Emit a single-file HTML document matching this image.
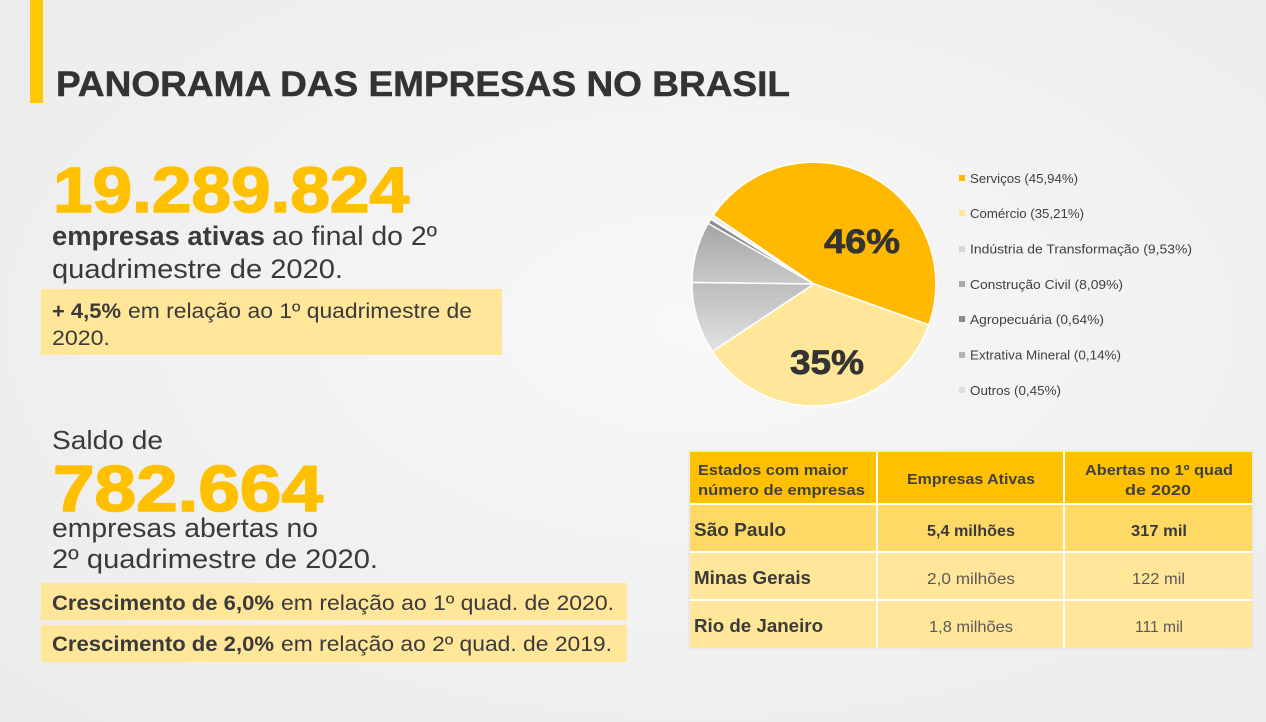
<!DOCTYPE html>
<html>
<head>
<meta charset="utf-8">
<style>
  html,body{margin:0;padding:0;}
  body{width:1266px;height:722px;overflow:hidden;background:#f0f0f0;}
  svg{display:block;}
  text{font-family:"Liberation Sans", Arial, sans-serif;}
</style>
</head>
<body>
<svg width="1266" height="722" viewBox="0 0 1266 722" xmlns="http://www.w3.org/2000/svg">
  <defs>
    <radialGradient id="bg" cx="0.55" cy="0.45" r="0.75">
      <stop offset="0" stop-color="#f8f8f8"/>
      <stop offset="1" stop-color="#ebebeb"/>
    </radialGradient>
    <linearGradient id="gCons" gradientUnits="userSpaceOnUse" x1="0" y1="222" x2="0" y2="284">
      <stop offset="0" stop-color="#a3a3a3"/>
      <stop offset="1" stop-color="#c9c9c9"/>
    </linearGradient>
    <linearGradient id="gInd" gradientUnits="userSpaceOnUse" x1="0" y1="284" x2="0" y2="352">
      <stop offset="0" stop-color="#bdbdbd"/>
      <stop offset="1" stop-color="#e2e2e2"/>
    </linearGradient>
  </defs>

  <rect x="0" y="0" width="1266" height="722" fill="url(#bg)"/>

  <!-- Title -->
  <rect x="30" y="0" width="13" height="103" fill="#ffc800"/>
  <text x="56" y="96" font-size="35" font-weight="bold" fill="#333333" stroke="#333333" stroke-width="0.5" textLength="734" lengthAdjust="spacingAndGlyphs">PANORAMA DAS EMPRESAS NO BRASIL</text>

  <!-- Block 1 -->
  <text x="53" y="212" font-size="64" font-weight="bold" fill="#ffc000" stroke="#ffc000" stroke-width="1.6" stroke-linejoin="round" textLength="356" lengthAdjust="spacingAndGlyphs">19.289.824</text>
  <text x="52" y="245" font-size="27" font-weight="bold" fill="#3a3a3a" textLength="213" lengthAdjust="spacingAndGlyphs">empresas ativas</text>
  <text x="272" y="245" font-size="27" fill="#3a3a3a" textLength="165" lengthAdjust="spacingAndGlyphs">ao final do 2º</text>
  <text x="52" y="278" font-size="27" fill="#3a3a3a" textLength="291" lengthAdjust="spacingAndGlyphs">quadrimestre de 2020.</text>

  <rect x="41" y="289" width="461" height="66" fill="#ffe699"/>
  <text x="52" y="318" font-size="21" font-weight="bold" fill="#3a3a3a" textLength="69" lengthAdjust="spacingAndGlyphs">+ 4,5%</text>
  <text x="128" y="318" font-size="21" fill="#3a3a3a" textLength="344" lengthAdjust="spacingAndGlyphs">em relação ao 1º quadrimestre de</text>
  <text x="52" y="345" font-size="21" fill="#3a3a3a" textLength="58" lengthAdjust="spacingAndGlyphs">2020.</text>

  <!-- Block 2 -->
  <text x="52" y="449" font-size="26" fill="#3a3a3a" textLength="111" lengthAdjust="spacingAndGlyphs">Saldo de</text>
  <text x="53" y="511" font-size="65" font-weight="bold" fill="#ffc000" stroke="#ffc000" stroke-width="1.6" stroke-linejoin="round" textLength="270" lengthAdjust="spacingAndGlyphs">782.664</text>
  <text x="52" y="537" font-size="27" fill="#3a3a3a" textLength="266" lengthAdjust="spacingAndGlyphs">empresas abertas no</text>
  <text x="52" y="568" font-size="27" fill="#3a3a3a" textLength="326" lengthAdjust="spacingAndGlyphs">2º quadrimestre de 2020.</text>

  <rect x="41" y="583" width="586" height="37" fill="#ffe699"/>
  <text x="52" y="610" font-size="21" font-weight="bold" fill="#3a3a3a" textLength="222" lengthAdjust="spacingAndGlyphs">Crescimento de 6,0%</text>
  <text x="281" y="610" font-size="21" fill="#3a3a3a" textLength="333" lengthAdjust="spacingAndGlyphs">em relação ao 1º quad. de  2020.</text>

  <rect x="41" y="625" width="586" height="37" fill="#ffe699"/>
  <text x="52" y="651" font-size="21" font-weight="bold" fill="#3a3a3a" textLength="222" lengthAdjust="spacingAndGlyphs">Crescimento de 2,0%</text>
  <text x="281" y="651" font-size="21" fill="#3a3a3a" textLength="331" lengthAdjust="spacingAndGlyphs">em relação ao 2º quad. de  2019.</text>

  <!-- Pie -->
  <g stroke="#ffffff" stroke-width="1.5" stroke-linejoin="round">
    <path d="M814,284 L928.9,324.9 A122,122 0 0 0 713.1,215.4 Z" fill="#ffb900"/>
    <path d="M814,284 L713.1,215.4 A122,122 0 0 0 711.2,218.3 Z" fill="#e6e6e6"/>
    <path d="M814,284 L711.2,218.3 A122,122 0 0 0 710.7,219.2 Z" fill="#bcbcbc"/>
    <path d="M814,284 L710.7,219.2 A122,122 0 0 0 708.1,223.4 Z" fill="#8c8c8c"/>
    <path d="M814,284 L708.1,223.4 A122,122 0 0 0 692.0,282.5 Z" fill="url(#gCons)"/>
    <path d="M814,284 L692.0,282.5 A122,122 0 0 0 712.4,351.5 Z" fill="url(#gInd)"/>
    <path d="M814,284 L712.4,351.5 A122,122 0 0 0 928.9,324.9 Z" fill="#ffe699"/>
  </g>
  <text x="824" y="253" font-size="34" font-weight="bold" fill="#333333" stroke="#333333" stroke-width="0.7" textLength="76" lengthAdjust="spacingAndGlyphs">46%</text>
  <text x="790" y="374" font-size="34" font-weight="bold" fill="#333333" stroke="#333333" stroke-width="0.7" textLength="74" lengthAdjust="spacingAndGlyphs">35%</text>

  <!-- Legend -->
  <g font-size="13" fill="#404040">
    <rect x="959" y="175" width="6" height="6" fill="#ffb900"/>
    <text x="970" y="183" textLength="108" lengthAdjust="spacingAndGlyphs">Serviços (45,94%)</text>
    <rect x="959" y="210" width="6" height="6" fill="#ffe699"/>
    <text x="970" y="218" textLength="114" lengthAdjust="spacingAndGlyphs">Comércio (35,21%)</text>
    <rect x="959" y="246" width="6" height="6" fill="#d6d6d6"/>
    <text x="970" y="253.5" textLength="222" lengthAdjust="spacingAndGlyphs">Indústria de Transformação (9,53%)</text>
    <rect x="959" y="281" width="6" height="6" fill="#a9a9a9"/>
    <text x="970" y="289" textLength="153" lengthAdjust="spacingAndGlyphs">Construção Civil (8,09%)</text>
    <rect x="959" y="316" width="6" height="6" fill="#8c8c8c"/>
    <text x="970" y="324" textLength="134" lengthAdjust="spacingAndGlyphs">Agropecuária (0,64%)</text>
    <rect x="959" y="352" width="6" height="6" fill="#b5b5b5"/>
    <text x="970" y="359.5" textLength="151" lengthAdjust="spacingAndGlyphs">Extrativa Mineral (0,14%)</text>
    <rect x="959" y="387" width="6" height="6" fill="#dedede"/>
    <text x="970" y="395" textLength="91" lengthAdjust="spacingAndGlyphs">Outros (0,45%)</text>
  </g>

  <!-- Table -->
  <g>
    <rect x="688" y="450" width="566" height="200" fill="#e4e4e4" opacity="0.6"/>
    <rect x="690" y="452" width="562" height="52" fill="#ffc000"/>
    <rect x="690" y="504" width="562" height="48" fill="#ffd966"/>
    <rect x="690" y="552" width="562" height="48" fill="#ffe699"/>
    <rect x="690" y="600" width="562" height="48" fill="#ffe699"/>
    <g stroke="#ffffff" stroke-width="2">
      <line x1="877" y1="452" x2="877" y2="648"/>
      <line x1="1064" y1="452" x2="1064" y2="648"/>
      <line x1="690" y1="504" x2="1252" y2="504"/>
      <line x1="690" y1="552" x2="1252" y2="552"/>
      <line x1="690" y1="600" x2="1252" y2="600"/>
    </g>
  </g>
  <g font-weight="bold" fill="#404040" font-size="14.5">
    <text x="698" y="475" textLength="150" lengthAdjust="spacingAndGlyphs">Estados com maior</text>
    <text x="698" y="495" textLength="167" lengthAdjust="spacingAndGlyphs">número de empresas</text>
    <text x="907" y="484" textLength="128" lengthAdjust="spacingAndGlyphs">Empresas Ativas</text>
    <text x="1085" y="475" textLength="148" lengthAdjust="spacingAndGlyphs">Abertas no 1º quad</text>
    <text x="1125" y="495" textLength="66" lengthAdjust="spacingAndGlyphs">de 2020</text>
  </g>
  <g font-weight="bold" fill="#3a3a3a" font-size="18">
    <text x="694" y="536" textLength="92" lengthAdjust="spacingAndGlyphs">São Paulo</text>
    <text x="694" y="584" textLength="117" lengthAdjust="spacingAndGlyphs">Minas Gerais</text>
    <text x="694" y="632" textLength="129" lengthAdjust="spacingAndGlyphs">Rio de Janeiro</text>
  </g>
  <g font-weight="bold" fill="#3a3a3a" font-size="16">
    <text x="927" y="536" textLength="88" lengthAdjust="spacingAndGlyphs">5,4 milhões</text>
    <text x="1131" y="536" textLength="56" lengthAdjust="spacingAndGlyphs">317 mil</text>
  </g>
  <g fill="#595959" font-size="16">
    <text x="927" y="584" textLength="88" lengthAdjust="spacingAndGlyphs">2,0 milhões</text>
    <text x="1132" y="584" textLength="53" lengthAdjust="spacingAndGlyphs">122 mil</text>
    <text x="929" y="632" textLength="84" lengthAdjust="spacingAndGlyphs">1,8 milhões</text>
    <text x="1135" y="632" textLength="48" lengthAdjust="spacingAndGlyphs">111 mil</text>
  </g>
</svg>
</body>
</html>
